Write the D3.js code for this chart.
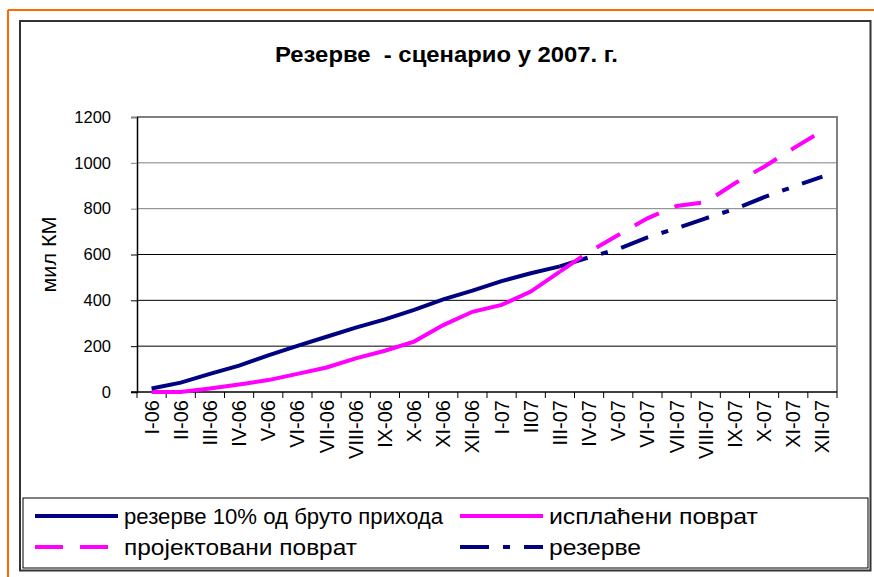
<!DOCTYPE html>
<html>
<head>
<meta charset="utf-8">
<script src="https://cdn.jsdelivr.net/npm/d3@7/dist/d3.min.js"></script>
<style>
html,body{margin:0;padding:0;background:#fff;}
svg{display:block;font-family:"Liberation Sans",Arial,sans-serif;}
text{white-space:pre;}
</style>
</head>
<body>
<svg id="chart" width="874" height="577"></svg>
<script>
const categories = ["I-06","II-06","III-06","IV-06","V-06","VI-06","VII-06","VIII-06","IX-06","X-06","XI-06","XII-06","I-07","II07","III-07","IV-07","V-07","VI-07","VII-07","VIII-07","IX-07","X-07","XI-07","XII-07"];
// actual series (I-06 .. III-07)
const reserve10 = [15, 41, 79, 115, 160, 201, 241, 281, 317, 358, 404, 442, 484, 518, 548];
const paidRefund = [0, 0, 15, 33, 52, 79, 107, 147, 180, 220, 292, 350, 380, 438, 525];
// scenario series (III-07 .. XII-07)
const projectedRefund = [525, 612, 685, 758, 812, 828, 911, 983, 1063, 1140];
const reserves = [548, 588, 624, 675, 714, 758, 799, 850, 896, 940];
const yTicks = [0, 200, 400, 600, 800, 1000, 1200];

const title = "Резерве  - сценарио у 2007. г.";
const yTitle = "мил КМ";
const legendNames = ["резерве 10% од бруто прихода", "исплаћени поврат", "пројектовани поврат", "резерве"];
const legendColors = ["#000080", "#FF00FF", "#FF00FF", "#000080"];
const legendDashes = [null, null, "28,17", "29,14,7,14"];

const svg = d3.select("#chart");

// orange outer frame (top and left visible)
svg.append("line").attr("x1",8).attr("y1",10).attr("x2",874).attr("y2",10).attr("stroke","#FF6A00").attr("stroke-width",2);
svg.append("line").attr("x1",8).attr("y1",10).attr("x2",8).attr("y2",577).attr("stroke","#FF6A00").attr("stroke-width",2);

// chart frame
svg.append("rect").attr("x",20).attr("y",21).attr("width",850.5).attr("height",549.5)
  .attr("fill","#fff").attr("stroke","#333").attr("stroke-width",2);

const L = 137, R = 837, T = 117, B = 392;
const x = d3.scaleBand().domain(categories).range([L, R]).padding(0);
const y = d3.scaleLinear().domain([0, 1200]).range([B, T]);
const cx = c => x(c) + x.bandwidth()/2;

// gridlines
svg.append("g").selectAll("line").data(yTicks.filter(v => v > 0 && v < 1200)).join("line")
  .attr("x1", L).attr("x2", R).attr("y1", d => y(d)).attr("y2", d => y(d))
  .attr("stroke", d => d >= 800 ? "#808080" : "#000").attr("stroke-width", 1);

// plot border top/right
svg.append("path").attr("d", `M${L},${T}H${R}V${B}`).attr("fill","none").attr("stroke","#808080").attr("stroke-width",2);

// y axis
const yAxis = svg.append("g").attr("transform", `translate(${L},0)`)
  .call(d3.axisLeft(y).tickValues(yTicks).tickSize(6).tickPadding(20).tickFormat(d3.format("d")));
yAxis.select(".domain").attr("stroke","#000").attr("stroke-width",1.5);
yAxis.selectAll(".tick line").attr("stroke", d => d >= 800 ? "#808080" : "#000");
yAxis.selectAll(".tick text").attr("font-size", 16.5).attr("fill","#000")
  .attr("font-family", "'Liberation Sans', Arial, sans-serif");

// x axis
const xAxis = svg.append("g").attr("transform", `translate(0,${B})`)
  .call(d3.axisBottom(x).tickSize(0).tickPadding(0));
xAxis.select(".domain").remove();
svg.append("line").attr("x1", L-6).attr("x2", R).attr("y1", B).attr("y2", B).attr("stroke","#000").attr("stroke-width",1.5);
const bounds = categories.map(c => x(c)).concat([R]);
svg.append("g").selectAll("line").data(bounds).join("line")
  .attr("x1", d => d).attr("x2", d => d).attr("y1", B).attr("y2", B + 6)
  .attr("stroke", "#000").attr("stroke-width", 1);
xAxis.selectAll(".tick text")
  .attr("font-size", 20).attr("fill", "#000")
  .attr("font-family", "'Liberation Sans', Arial, sans-serif")
  .attr("text-anchor", "end")
  .attr("dy", "0.35em")
  .attr("transform", "translate(0,8) rotate(-90)")
  .attr("x", 0).attr("y", 0);

// lines
const line = d3.line().x(d => cx(d.c)).y(d => y(d.v));
const actualCats = categories.slice(0, reserve10.length);
const scenCats = categories.slice(reserve10.length - 1);

const seriesDefs = [
  {cats: actualCats, vals: paidRefund, color: "#FF00FF", dash: null},
  {cats: actualCats, vals: reserve10, color: "#000080", dash: null},
  {cats: scenCats, vals: reserves, color: "#000080", dash: "29,14,7,14"},
  {cats: scenCats, vals: projectedRefund, color: "#FF00FF", dash: "27,17"}
];
seriesDefs.forEach(s => {
  svg.append("path")
    .datum(s.cats.map((c, i) => ({c, v: s.vals[i]})))
    .attr("d", line)
    .attr("fill", "none")
    .attr("stroke", s.color)
    .attr("stroke-width", 4)
    .attr("stroke-dasharray", s.dash);
});

// title
svg.append("text").attr("x", 446.5).attr("y", 62).attr("text-anchor","middle")
  .attr("font-size", 22).attr("font-weight","bold").attr("fill","#000")
  .attr("textLength", 343).attr("lengthAdjust","spacingAndGlyphs").text(title);

// y title
svg.append("text").attr("transform", `translate(56,${(T+B)/2}) rotate(-90)`)
  .attr("text-anchor","middle").attr("font-size", 21).attr("fill","#000")
  .attr("textLength", 76).attr("lengthAdjust","spacingAndGlyphs").text(yTitle);

// legend
svg.append("rect").attr("x",23).attr("y",498).attr("width",845).attr("height",70)
  .attr("fill","#fff").attr("stroke","#000").attr("stroke-width",1);
const legX = [35, 460, 35, 460];
const legY = [516, 516, 547, 547];
const legTextW = [319, 209, 233, 92];
legendNames.forEach((name, i) => {
  svg.append("line").attr("x1", legX[i]).attr("x2", legX[i] + 83).attr("y1", legY[i]).attr("y2", legY[i])
    .attr("stroke", legendColors[i]).attr("stroke-width", 4).attr("stroke-dasharray", legendDashes[i]);
  svg.append("text").attr("x", legX[i] + 89).attr("y", legY[i]).attr("dy","0.35em")
    .attr("font-size", 22).attr("fill","#000")
    .attr("textLength", legTextW[i]).attr("lengthAdjust","spacingAndGlyphs").text(name);
});
</script>
</body>
</html>
